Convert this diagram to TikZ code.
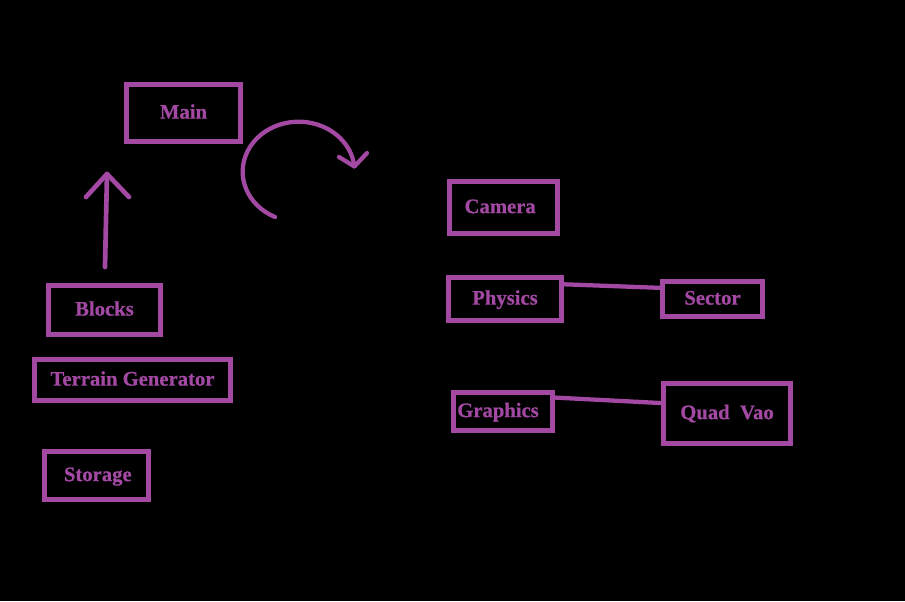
\documentclass[tikz,border=0pt]{standalone}
\usepackage{fontspec}
\setmainfont{Liberation Serif}[BoldFeatures={FakeBold=0.6}]
\definecolor{pp}{HTML}{A349A4}
\tikzset{
  box/.style={draw=pp, line width=3.75pt, inner sep=0pt, text=pp,
    font=\fontsize{15.5}{18}\selectfont\bfseries, text height=0.84em, text depth=0pt},
  conn/.style={draw=pp, line width=3.2pt, line cap=round, line join=round},
  thick arrow/.style={draw=pp, line width=3.5pt, line cap=round, line join=round}
}
\begin{document}
\begin{tikzpicture}[x=0.75pt, y=-0.75pt]
\fill[black] (0,0) rectangle (905,601);
\useasboundingbox (0,0) rectangle (905,601);
\node[box, minimum width=114*0.75pt, minimum height=57*0.75pt] (main) at (183.5,113) {Main};
\node[box, minimum width=108*0.75pt, minimum height=52*0.75pt] (cam) at (503.5,207.5) {Camera\hspace*{5pt}};
\node[box, minimum width=113*0.75pt, minimum height=43*0.75pt] (phys) at (505,299) {Physics};
\node[box, minimum width=100*0.75pt, minimum height=35*0.75pt] (sec) at (712.5,299) {Sector};
\node[box, minimum width=99*0.75pt, minimum height=38*0.75pt] (gfx) at (503,411.5) {Graphics\hspace*{7.5pt}};
\node[box, minimum width=127*0.75pt, minimum height=60*0.75pt] (quad) at (727,413.5) {Quad\ \ Vao};
\node[box, minimum width=112*0.75pt, minimum height=49*0.75pt] (blocks) at (104.5,310) {Blocks};
\node[box, minimum width=196*0.75pt, minimum height=41*0.75pt] (terrain) at (132.5,380) {Terrain Generator};
\node[box, minimum width=104*0.75pt, minimum height=48*0.75pt] (storage) at (96.5,475.5) {\hspace*{2pt}Storage};
% connectors
\draw[conn] (phys.14) -- (sec.168);
\draw[conn] (gfx.15) -- (quad.171);
% upward arrow from Blocks
\coordinate (ba) at (105,267);
\coordinate (bt) at (107,174);
\coordinate (bl) at (86,197);
\coordinate (br) at (129,197);
\draw[thick arrow] (ba) -- (bt);
\draw[thick arrow] (bl) -- (bt) -- (br);
% curved arrow
\coordinate (cs) at (275,217);
\draw[conn] (cs) arc[start angle=115, end angle=354, x radius=56, y radius=50] coordinate (ce);
\coordinate (cl) at (339,157);
\coordinate (cr) at (367,153);
\draw[conn] (cl) -- (ce) -- (cr);
\end{tikzpicture}
\end{document}
